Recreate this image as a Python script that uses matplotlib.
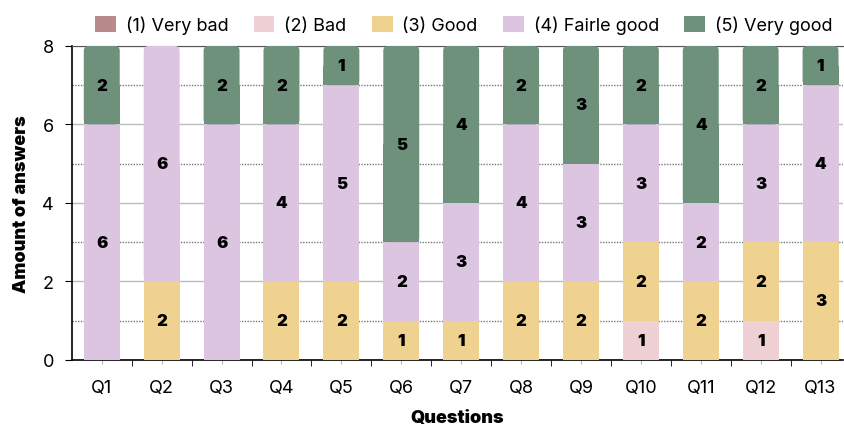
import matplotlib.pyplot as plt
from matplotlib.patches import FancyBboxPatch, Patch
import numpy as np

plt.rcParams['font.family'] = ['Inter', 'DejaVu Sans']

questions = ['Q1', 'Q2', 'Q3', 'Q4', 'Q5', 'Q6', 'Q7', 'Q8', 'Q9', 'Q10', 'Q11', 'Q12', 'Q13']
labels = ['(1) Very bad', '(2) Bad', '(3) Good', '(4) Fairle good', '(5) Very good']
colors = ['#b98a8b', '#efd1d5', '#efd28f', '#dcc5e1', '#6d917b']

very_bad = [0, 0, 0, 0, 0, 0, 0, 0, 0, 0, 0, 0, 0]
bad = [0, 0, 0, 0, 0, 0, 0, 0, 0, 1, 0, 1, 0]
good = [0, 2, 0, 2, 2, 1, 1, 2, 2, 2, 2, 2, 3]
fairly_good = [6, 6, 6, 4, 5, 2, 3, 4, 3, 3, 2, 3, 4]
very_good = [2, 0, 2, 2, 1, 5, 4, 2, 3, 2, 4, 2, 1]

series = [very_bad, bad, good, fairly_good, very_good]

fig, ax = plt.subplots(figsize=(8.45, 4.27), dpi=100)
fig.subplots_adjust(left=0.085, right=0.998, top=0.89, bottom=0.155)

x = np.arange(len(questions))
bottom = np.zeros(len(questions))
top_patch = [None] * len(questions)
for vals, lab, col in zip(series, labels, colors):
    vals = np.array(vals)
    bars = ax.bar(x, vals, 0.6, bottom=bottom, color=col, zorder=3)
    for i, (xi, v, b) in enumerate(zip(x, vals, bottom)):
        if v > 0:
            top_patch[i] = bars[i]
            ax.text(xi, b + v / 2, str(v), ha='center', va='center',
                    fontsize=12, fontweight='black', color='black', zorder=5)
    bottom += vals

# round the top corners of each stack
for p in top_patch:
    x0, y0 = p.get_x(), p.get_y()
    w, h = p.get_width(), p.get_height()
    p.set_visible(False)
    ax.add_patch(FancyBboxPatch((x0, y0), w, h, boxstyle='round,pad=0,rounding_size=0.08',
                                mutation_aspect=1.5, facecolor=p.get_facecolor(),
                                edgecolor='none', zorder=3))
    ax.add_patch(plt.Rectangle((x0, y0), w, h / 2, facecolor=p.get_facecolor(),
                               edgecolor='none', zorder=3))

ax.set_ylim(0, 8)
ax.set_xlim(-0.5, 12.38)
ax.set_yticks([0, 2, 4, 6, 8])
ax.set_yticks([1, 3, 5, 7], minor=True)
ax.grid(axis='y', which='major', color='#bbbbbb', linewidth=1, zorder=0)
ax.grid(axis='y', which='minor', color='#777777', linewidth=1, linestyle=(0, (1, 1)), zorder=0)
ax.tick_params(axis='y', which='minor', length=0)
ax.tick_params(axis='y', labelsize=13, length=5, pad=8)
ax.set_xticks(x)
ax.set_xticklabels(questions)
ax.tick_params(axis='x', labelsize=13, length=3, color='#bbbbbb', pad=11)
ax.set_xticks(np.arange(len(questions) - 1) + 0.5, minor=True)
ax.tick_params(axis='x', which='minor', length=4, color='black')

ax.spines['right'].set_visible(False)
ax.spines['top'].set_color('#555555')
ax.spines['left'].set_linewidth(1.2)
ax.spines['bottom'].set_linewidth(1.2)

ax.set_xlabel('Questions', fontsize=13, fontweight='black', labelpad=9)
ax.set_ylabel('Amount of answers', fontsize=13, fontweight='black', labelpad=9)

handles = [Patch(facecolor=c, edgecolor='none') for c in colors]
ax.legend(handles, labels, loc='lower center', bbox_to_anchor=(0.508, 1.0), ncol=5,
          frameon=False, fontsize=13, handlelength=1.15, handleheight=1.05,
          columnspacing=1.4, handletextpad=0.55, borderaxespad=0.25)

plt.savefig('out.png')
